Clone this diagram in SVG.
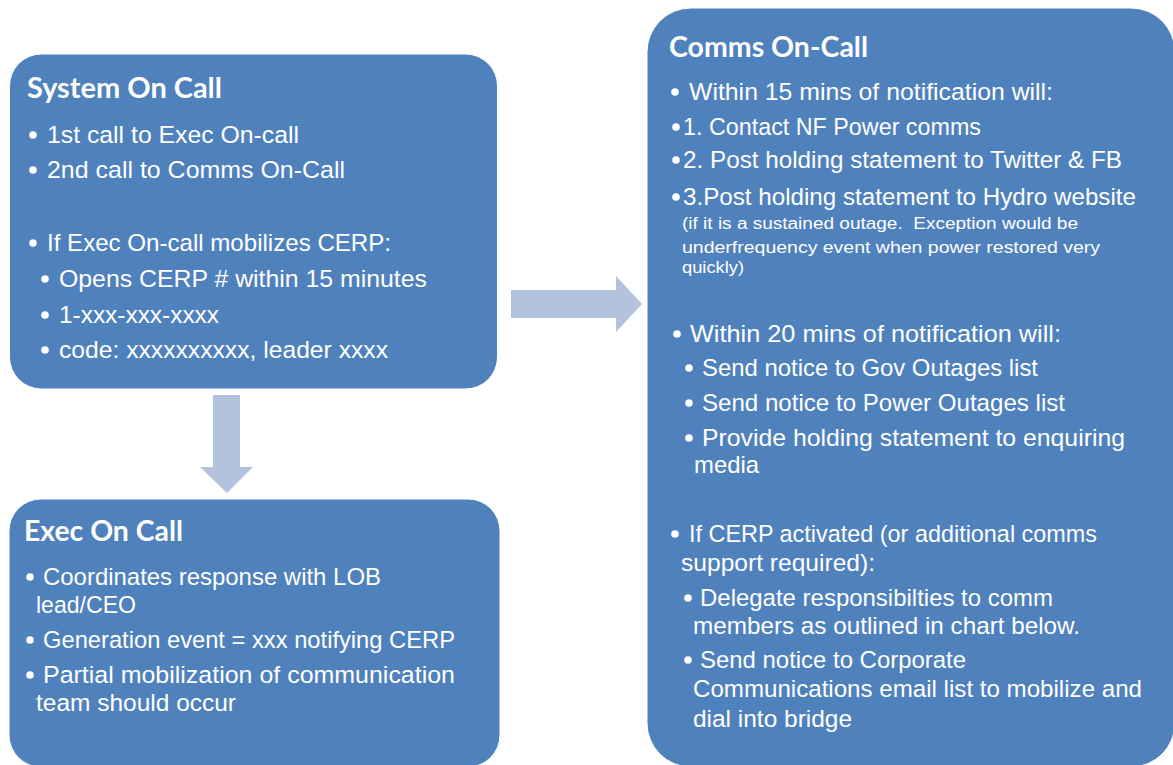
<svg xmlns="http://www.w3.org/2000/svg" width="1173" height="765" viewBox="0 0 1173 765">
<style>
.box{fill:#4F81BD;stroke:#ffffff;stroke-width:1}
.arrow{fill:#B3C2DD}
text{fill:#ffffff}
.t{font-family:Lato,"Open Sans","Liberation Sans",sans-serif;font-size:28px;font-weight:bold}
.b{font-family:"Liberation Sans",Arial,sans-serif;font-size:24.5px}
.s{font-family:"Liberation Sans",Arial,sans-serif;font-size:16px}
.dot{fill:#ffffff}
</style>
<rect width="1173" height="765" fill="#ffffff"/>
<g id="connectors">
<polygon class="arrow" points="511,290 616,290 616,276 642,304 616,332 616,318 511,318"/>
<polygon class="arrow" points="213,395 240,395 240,467 253,467 227,493 200,467 213,467"/>
</g>
<g id="system-on-call">
<rect class="box" x="9.5" y="54" width="488" height="335" rx="32"/>
<text class="t" x="27" y="98" textLength="195" lengthAdjust="spacingAndGlyphs">System On Call</text>
<circle class="dot" cx="33" cy="135" r="3.8"/>
<text class="b" x="47" y="143" textLength="252" lengthAdjust="spacingAndGlyphs">1st call to Exec On-call</text>
<circle class="dot" cx="33" cy="170" r="3.8"/>
<text class="b" x="47" y="178" textLength="298" lengthAdjust="spacingAndGlyphs">2nd call to Comms On-Call</text>
<circle class="dot" cx="33" cy="243" r="3.8"/>
<text class="b" x="47" y="251" textLength="344" lengthAdjust="spacingAndGlyphs">If Exec On-call mobilizes CERP:</text>
<circle class="dot" cx="45" cy="279" r="3.8"/>
<text class="b" x="59" y="287" textLength="368" lengthAdjust="spacingAndGlyphs">Opens CERP # within 15 minutes</text>
<circle class="dot" cx="45" cy="315" r="3.8"/>
<text class="b" x="59" y="323" textLength="160" lengthAdjust="spacingAndGlyphs">1-xxx-xxx-xxxx</text>
<circle class="dot" cx="45" cy="350" r="3.8"/>
<text class="b" x="59" y="358" textLength="329" lengthAdjust="spacingAndGlyphs">code: xxxxxxxxxx, leader xxxx</text>
</g>
<g id="exec-on-call">
<rect class="box" x="9" y="499" width="491" height="268" rx="32"/>
<text class="t" x="24" y="541" textLength="159" lengthAdjust="spacingAndGlyphs">Exec On Call</text>
<circle class="dot" cx="30" cy="577" r="3.8"/>
<text class="b" x="43" y="585" textLength="338" lengthAdjust="spacingAndGlyphs">Coordinates response with LOB</text>
<text class="b" x="36" y="613" textLength="100" lengthAdjust="spacingAndGlyphs">lead/CEO</text>
<circle class="dot" cx="30" cy="640" r="3.8"/>
<text class="b" x="43" y="648" textLength="412" lengthAdjust="spacingAndGlyphs">Generation event = xxx notifying CERP</text>
<circle class="dot" cx="30" cy="675" r="3.8"/>
<text class="b" x="43" y="683" textLength="412" lengthAdjust="spacingAndGlyphs">Partial mobilization of communication</text>
<text class="b" x="36" y="711" textLength="200" lengthAdjust="spacingAndGlyphs">team should occur</text>
</g>
<g id="comms-on-call">
<rect class="box" x="647" y="8" width="528" height="759" rx="44"/>
<text class="t" x="669" y="57" textLength="199" lengthAdjust="spacingAndGlyphs">Comms On-Call</text>
<circle class="dot" cx="675" cy="92" r="3.8"/>
<text class="b" x="689" y="100" textLength="364" lengthAdjust="spacingAndGlyphs">Within 15 mins of notification will:</text>
<circle class="dot" cx="676" cy="127" r="3.8"/>
<text class="b" x="683" y="135" textLength="298" lengthAdjust="spacingAndGlyphs">1. Contact NF Power comms</text>
<circle class="dot" cx="676" cy="160" r="3.8"/>
<text class="b" x="683" y="168" textLength="439" lengthAdjust="spacingAndGlyphs">2. Post holding statement to Twitter &amp; FB</text>
<circle class="dot" cx="676" cy="197" r="3.8"/>
<text class="b" x="683" y="205" textLength="453" lengthAdjust="spacingAndGlyphs">3.Post holding statement to Hydro website</text>
<text class="s" x="682" y="229" textLength="396" lengthAdjust="spacingAndGlyphs" xml:space="preserve">(if it is a sustained outage.  Exception would be</text>
<text class="s" x="682" y="253" textLength="418" lengthAdjust="spacingAndGlyphs">underfrequency event when power restored very</text>
<text class="s" x="682" y="273" textLength="62" lengthAdjust="spacingAndGlyphs">quickly)</text>
<circle class="dot" cx="677" cy="334" r="3.8"/>
<text class="b" x="690" y="342" textLength="371" lengthAdjust="spacingAndGlyphs">Within 20 mins of notification will:</text>
<circle class="dot" cx="689" cy="368" r="3.8"/>
<text class="b" x="702" y="376" textLength="336" lengthAdjust="spacingAndGlyphs">Send notice to Gov Outages list</text>
<circle class="dot" cx="689" cy="403" r="3.8"/>
<text class="b" x="702" y="411" textLength="363" lengthAdjust="spacingAndGlyphs">Send notice to Power Outages list</text>
<circle class="dot" cx="689" cy="438" r="3.8"/>
<text class="b" x="702" y="446" textLength="423" lengthAdjust="spacingAndGlyphs">Provide holding statement to enquiring</text>
<text class="b" x="694" y="473" textLength="65" lengthAdjust="spacingAndGlyphs">media</text>
<circle class="dot" cx="675" cy="534" r="3.8"/>
<text class="b" x="689" y="542" textLength="408" lengthAdjust="spacingAndGlyphs">If CERP activated (or additional comms</text>
<text class="b" x="681" y="571" textLength="194" lengthAdjust="spacingAndGlyphs">support required):</text>
<circle class="dot" cx="688" cy="598" r="3.8"/>
<text class="b" x="700" y="606" textLength="353" lengthAdjust="spacingAndGlyphs">Delegate responsibilties to comm</text>
<text class="b" x="693" y="634" textLength="387" lengthAdjust="spacingAndGlyphs">members as outlined in chart below.</text>
<circle class="dot" cx="688" cy="660" r="3.8"/>
<text class="b" x="700" y="668" textLength="266" lengthAdjust="spacingAndGlyphs">Send notice to Corporate</text>
<text class="b" x="693" y="697" textLength="449" lengthAdjust="spacingAndGlyphs">Communications email list to mobilize and</text>
<text class="b" x="693" y="727" textLength="159" lengthAdjust="spacingAndGlyphs">dial into bridge</text>
</g>
</svg>
